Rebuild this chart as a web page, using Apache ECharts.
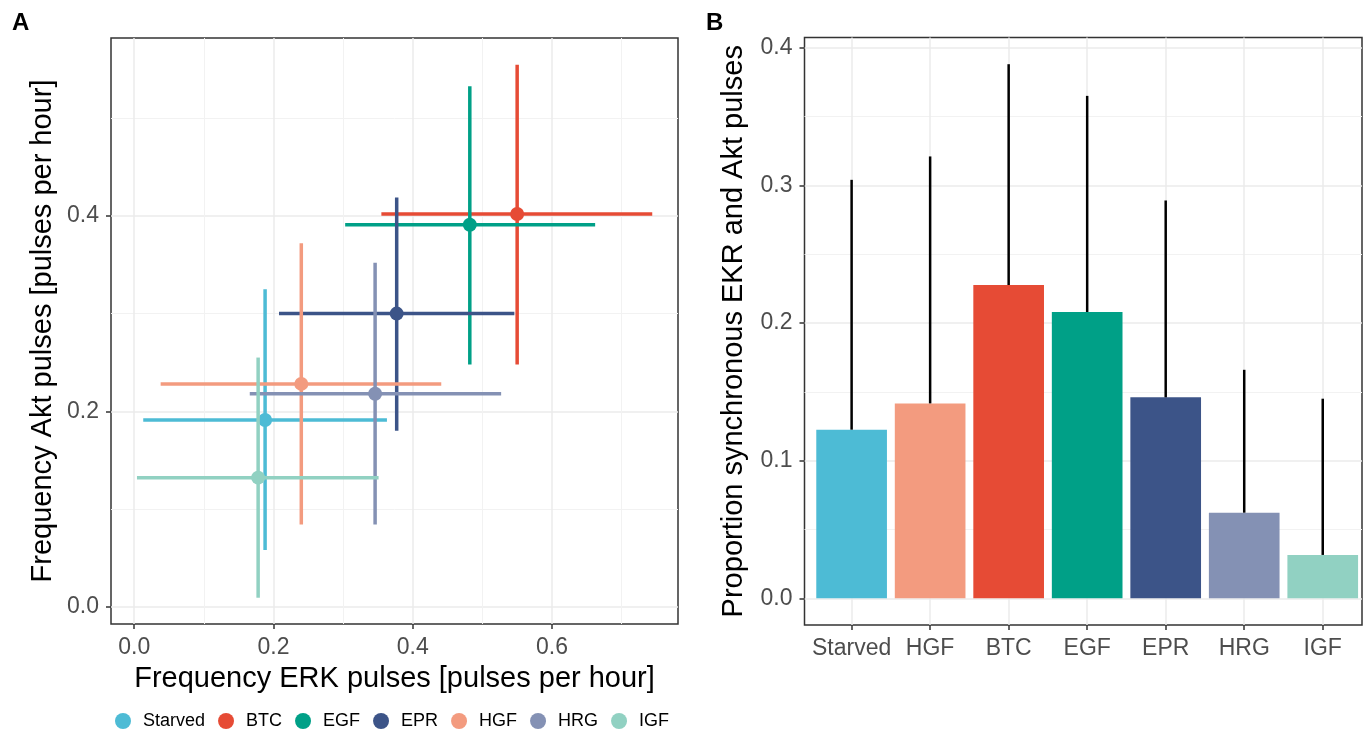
<!DOCTYPE html>
<html>
<head>
<meta charset="utf-8">
<script src="https://cdn.jsdelivr.net/npm/echarts@6/dist/echarts.min.js"></script>
<style>
html, body { margin: 0; padding: 0; background: #fff; }
#main { width: 1365px; height: 732px; }
</style>
</head>
<body>
<div id="main"></div>
<script>
// panel A: ERK vs Akt pulse frequency per treatment
var groups = ['Starved', 'BTC', 'EGF', 'EPR', 'HGF', 'HRG', 'IGF'];
var groupColors = ['#4DBBD5', '#E64B35', '#00A087', '#3C5488', '#F39B7F', '#8491B4', '#91D1C2'];
var erkMean = [0.188, 0.550, 0.482, 0.377, 0.240, 0.346, 0.178];
var erkLow = [0.013, 0.355, 0.303, 0.208, 0.038, 0.166, 0.004];
var erkHigh = [0.363, 0.744, 0.662, 0.546, 0.441, 0.527, 0.351];
var aktMean = [0.191, 0.402, 0.391, 0.300, 0.228, 0.218, 0.132];
var aktLow = [0.058, 0.248, 0.248, 0.180, 0.084, 0.084, 0.009];
var aktHigh = [0.325, 0.555, 0.533, 0.419, 0.372, 0.352, 0.255];

// panel B: proportion of synchronous pulses
var barCats = ['Starved', 'HGF', 'BTC', 'EGF', 'EPR', 'HRG', 'IGF'];
var syncProp = [0.1225, 0.1416, 0.2276, 0.208, 0.146, 0.0622, 0.0315];
var syncHigh = [0.304, 0.321, 0.388, 0.365, 0.289, 0.166, 0.145];

var font = 'Liberation Sans, Arial, sans-serif';
var myChart = echarts.init(document.getElementById('main'));

function crossItem(color) {
    return function (params, api) {
        var c = api.coord([api.value(0), api.value(1)]);
        var l = api.coord([api.value(2), api.value(1)]);
        var r = api.coord([api.value(3), api.value(1)]);
        var b = api.coord([api.value(0), api.value(4)]);
        var t = api.coord([api.value(0), api.value(5)]);
        var st = { stroke: color, lineWidth: 3.5 };
        return {
            type: 'group',
            children: [
                { type: 'line', shape: { x1: c[0], y1: b[1], x2: c[0], y2: t[1] }, style: st },
                { type: 'line', shape: { x1: l[0], y1: c[1], x2: r[0], y2: c[1] }, style: st },
                { type: 'circle', shape: { cx: c[0], cy: c[1], r: 7 }, style: { fill: color } }
            ]
        };
    };
}

function valueAxis(opt) {
    var major = opt.major, minor = opt.minor;
    var main = {
        gridIndex: opt.grid, type: 'value', min: opt.min, max: opt.max,
        axisLine: { show: false, onZero: false },
        axisTick: { length: 5, lineStyle: { color: '#333', width: 1.5 }, customValues: major },
        axisLabel: {
            customValues: major, fontSize: 23, color: '#4D4D4D', margin: 12, fontFamily: font,
            formatter: opt.formatter || function (v) { return v.toFixed(1); }
        },
        splitLine: { show: true, lineStyle: { color: '#EBEBEB', width: 1.5 } },
        name: opt.name, nameLocation: 'middle', nameGap: opt.nameGap,
        nameTextStyle: { fontSize: 29, color: '#000', fontFamily: font }
    };
    if (opt.position) main.position = opt.position;
    var list = [main];
    if (minor) {
        list.push({
            gridIndex: opt.grid, type: 'value', min: opt.min, max: opt.max,
            position: opt.minorPos,
            axisLine: { show: false, onZero: false },
            axisTick: { show: false, customValues: minor },
            axisLabel: { show: false, customValues: minor },
            splitLine: { show: true, lineStyle: { color: '#F2F2F2', width: 1 } }
        });
    }
    return list;
}

var xAxes = [].concat(
    valueAxis({ grid: 0, min: -0.0333, max: 0.781, major: [0, 0.2, 0.4, 0.6], minor: [0.1, 0.3, 0.5, 0.7],
        minorPos: 'top', position: 'bottom', name: 'Frequency ERK pulses [pulses per hour]', nameGap: 40 }),
    valueAxis({ grid: 1, min: 0.4, max: 7.5, major: [1, 2, 3, 4, 5, 6, 7], position: 'bottom',
        formatter: function (v) { return barCats[Math.round(v) - 1]; } })
);
var yAxes = [].concat(
    valueAxis({ grid: 0, min: -0.0179, max: 0.5823, major: [0, 0.2, 0.4], minor: [0.1, 0.3, 0.5],
        minorPos: 'right', position: 'left', name: 'Frequency Akt pulses [pulses per hour]', nameGap: 54 }),
    valueAxis({ grid: 1, min: -0.0194, max: 0.4074, major: [0, 0.1, 0.2, 0.3, 0.4], minor: [0.05, 0.15, 0.25, 0.35],
        minorPos: 'right', position: 'left', name: 'Proportion synchronous EKR and Akt pulses', nameGap: 56 })
);
// xAxes: 0 = A main, 1 = A minor, 2 = B main
// yAxes: 0 = A main, 1 = A minor, 2 = B main, 3 = B minor

var series = groups.map(function (g, i) {
    return {
        name: g,
        type: 'custom',
        xAxisIndex: 0,
        yAxisIndex: 0,
        itemStyle: { color: groupColors[i] },
        renderItem: crossItem(groupColors[i]),
        data: [[erkMean[i], aktMean[i], erkLow[i], erkHigh[i], aktLow[i], aktHigh[i]]]
    };
});

var barColors = barCats.map(function (c) { return groupColors[groups.indexOf(c)]; });

series.push({
    type: 'custom',
    xAxisIndex: 2,
    yAxisIndex: 2,
    renderItem: function (params, api) {
        var p0 = api.coord([api.value(0) - 0.45, api.value(1)]);
        var p1 = api.coord([api.value(0) + 0.45, 0]);
        return {
            type: 'rect',
            shape: { x: p0[0], y: p0[1], width: p1[0] - p0[0], height: p1[1] - p0[1] },
            style: { fill: barColors[params.dataIndex] }
        };
    },
    data: barCats.map(function (c, i) { return [i + 1, syncProp[i]]; })
});
series.push({
    type: 'custom',
    xAxisIndex: 2,
    yAxisIndex: 2,
    renderItem: function (params, api) {
        var lo = api.coord([api.value(0), api.value(1)]);
        var hi = api.coord([api.value(0), api.value(2)]);
        return {
            type: 'line',
            shape: { x1: lo[0], y1: lo[1], x2: hi[0], y2: hi[1] },
            style: { stroke: '#000', lineWidth: 2.5 }
        };
    },
    data: barCats.map(function (c, i) { return [i + 1, syncProp[i], syncHigh[i]]; })
});

var option = {
    animation: false,
    backgroundColor: '#fff',
    textStyle: { fontFamily: font },
    title: [
        { text: 'A', left: 12, top: 11, padding: 0, textStyle: { fontSize: 24, fontWeight: 'bold', color: '#000', fontFamily: font } },
        { text: 'B', left: 706, top: 11, padding: 0, textStyle: { fontSize: 24, fontWeight: 'bold', color: '#000', fontFamily: font } }
    ],
    legend: {
        left: 115,
        top: 712,
        padding: 0,
        itemWidth: 16,
        itemHeight: 16,
        itemGap: 13,
        data: groups.map(function (g) { return { name: g, icon: 'circle' }; }),
        textStyle: { fontSize: 18, color: '#000', fontFamily: font, padding: [0, 0, 0, 7] }
    },
    grid: [
        { left: 111, top: 38, width: 567, height: 586, show: true, borderColor: '#333', borderWidth: 1.5, backgroundColor: 'transparent' },
        { left: 804.5, top: 37.5, width: 557.5, height: 587.5, show: true, borderColor: '#333', borderWidth: 1.5, backgroundColor: 'transparent' }
    ],
    xAxis: xAxes,
    yAxis: yAxes,
    series: series
};

myChart.setOption(option);
</script>
</body>
</html>
